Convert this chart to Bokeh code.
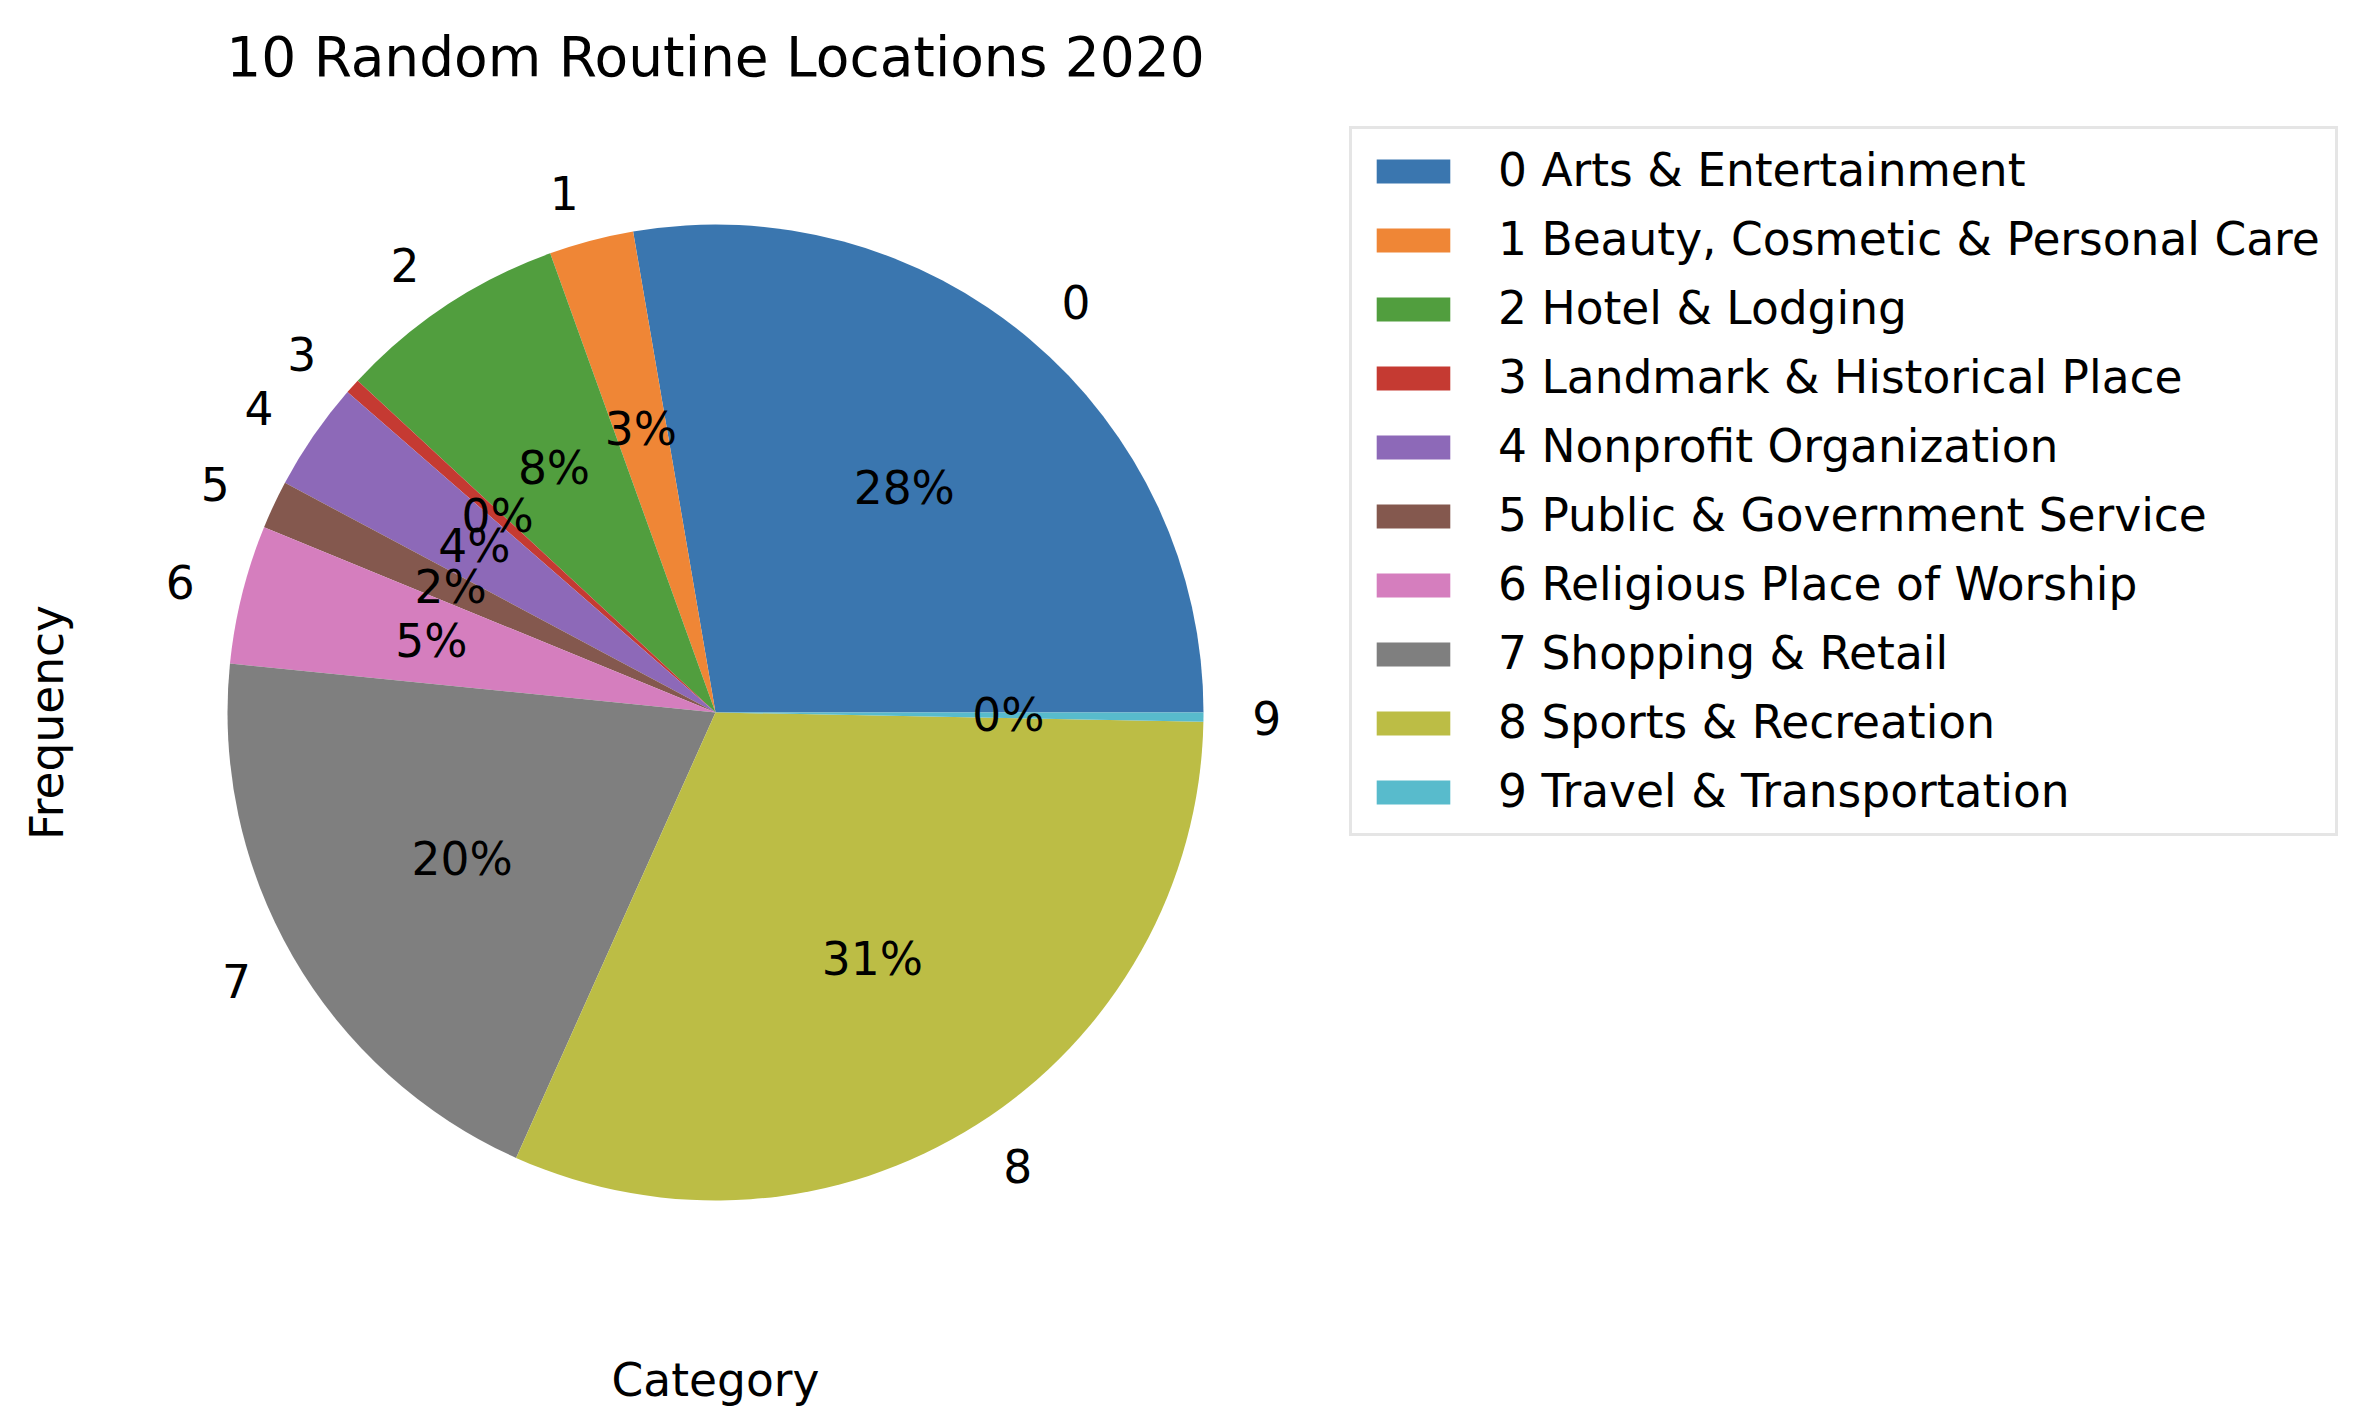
import numpy as np
from bokeh.plotting import figure
from bokeh.models import (Range1d, LinearAxis, FixedTicker, Legend, LegendItem,
                          ColumnDataSource)
from bokeh.core.properties import value
from bokeh.embed import file_html
from bokeh.resources import INLINE

# ---- data ----
title_text = "10 Random Routine Locations 2020"
category_ids = ["0", "1", "2", "3", "4", "5", "6", "7", "8", "9"]
categories = ["Arts & Entertainment", "Beauty, Cosmetic & Personal Care",
              "Hotel & Lodging", "Landmark & Historical Place",
              "Nonprofit Organization", "Public & Government Service",
              "Religious Place of Worship", "Shopping & Retail",
              "Sports & Recreation", "Travel & Transportation"]
frequency = [277, 28, 76, 5, 36, 16, 46, 199, 314, 3]
colors = ["#3a76af", "#ef8636", "#519e3e", "#c53a32", "#8d69b8",
          "#84584e", "#d57ebe", "#7f7f7f", "#bcbd45", "#58bbcc"]
x_label = "Category"
y_label = "Frequency"

FONT = "DejaVu Sans"
FS = "45.5px"

vals = np.array(frequency, dtype=float)
frac = vals / vals.sum()
ends = 2 * np.pi * np.cumsum(frac)
starts = ends - 2 * np.pi * frac
mids = (starts + ends) / 2

src = ColumnDataSource(dict(
    start=starts, end=ends, color=colors,
    label=[f"{i} {c}" for i, c in zip(category_ids, categories)],
))

p = figure(x_range=Range1d(-1.25, 1.25), y_range=Range1d(-1.291, 1.25),
           frame_width=1220, frame_height=1240,
           min_border_left=105, min_border_right=1046,
           min_border_top=102, min_border_bottom=81,
           x_axis_type=None, y_axis_type=None,
           toolbar_location=None, output_backend="svg", title=title_text)
p.outline_line_color = None
p.grid.visible = False
p.background_fill_color = "white"
p.border_fill_color = "white"

p.title.text_font = FONT
p.title.text_font_size = "55px"
p.title.text_font_style = "normal"
p.title.text_color = "black"
p.title.align = "center"
p.title.standoff = 27

for loc, lab, so in (("left", y_label, 32), ("below", x_label, 11)):
    ax = LinearAxis(ticker=FixedTicker(ticks=[]), axis_label=lab,
                    axis_line_color=None, major_tick_line_color=None,
                    minor_tick_line_color=None, major_tick_out=0, major_tick_in=0,
                    minor_tick_out=0, minor_tick_in=0, major_label_standoff=0,
                    major_label_text_font_size="0px", axis_label_standoff=so,
                    axis_label_text_font=FONT, axis_label_text_font_size=FS,
                    axis_label_text_font_style="normal", axis_label_text_color="black")
    p.add_layout(ax, loc)

r = p.wedge(x=0, y=0, radius=1.0, start_angle="start", end_angle="end",
            fill_color="color", line_color=None, source=src)

# percentage labels
pct = ["%.0f%%" % (f * 100) for f in frac]
p.text(x=0.6 * np.cos(mids), y=0.6 * np.sin(mids), text=pct,
       text_align="center", text_baseline="middle",
       text_font=value(FONT), text_font_size=FS, text_color="black")

# category labels
lx = 1.1 * np.cos(mids)
ly = 1.1 * np.sin(mids)
for i in range(len(category_ids)):
    p.text(x=[lx[i]], y=[ly[i]], text=[category_ids[i]],
           text_align="left" if lx[i] > 0 else "right", text_baseline="middle",
           text_font=value(FONT), text_font_size=FS, text_color="black")

items = [LegendItem(label=src.data["label"][i], renderers=[r], index=i)
         for i in range(len(category_ids))]
legend = Legend(items=items, location="top_left", margin=24, padding=15,
                spacing=16, glyph_width=92, glyph_height=30, label_standoff=39,
                label_text_font=FONT, label_text_font_size=FS,
                label_text_color="black",
                border_line_color="#cccccc", border_line_width=3,
                background_fill_color="white", background_fill_alpha=0.8)
p.add_layout(legend, "right")

open("out.html", "w").write(file_html(p, INLINE))
